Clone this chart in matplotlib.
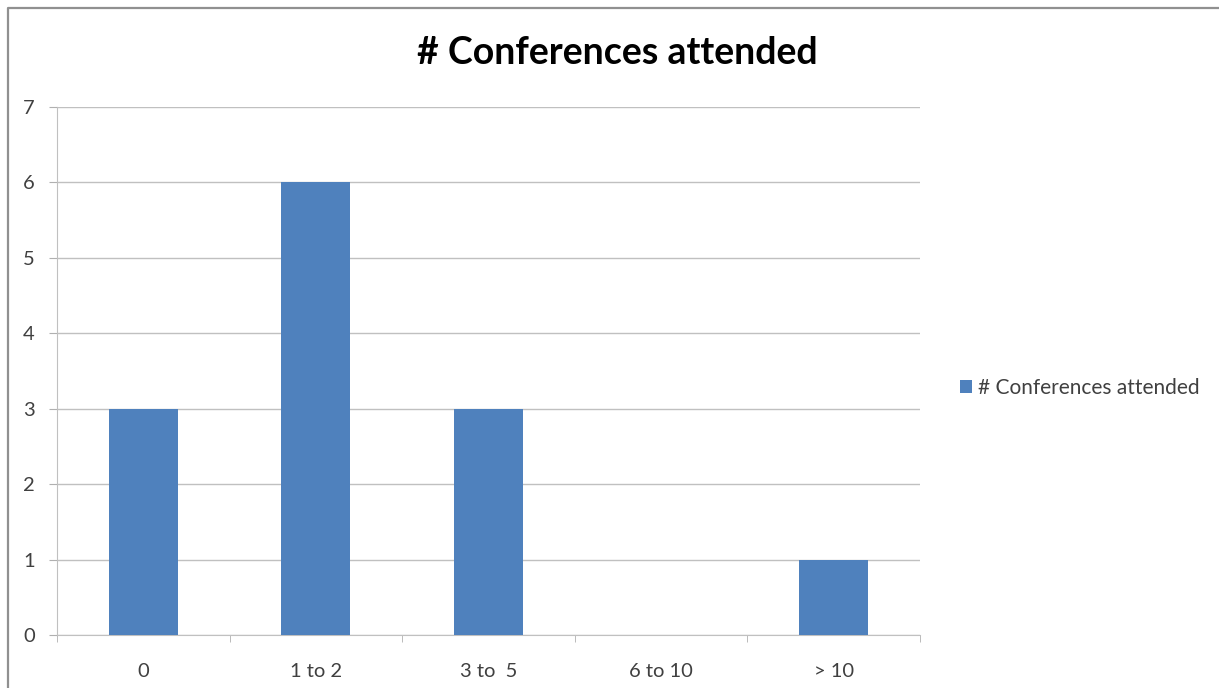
import matplotlib.pyplot as plt
from matplotlib.lines import Line2D

plt.rcParams['font.family'] = ['Lato', 'DejaVu Sans']

categories = ["0", "1 to 2", "3 to  5", "6 to 10", "> 10"]
counts = [3, 6, 3, 0, 1]
series_name = "# Conferences attended"

W, H = 1219, 688
fig = plt.figure(figsize=(W / 100, H / 100), dpi=100)
# frame only shows on top and left (chart was cropped)
fig.lines.append(Line2D([8 / W, 8 / W, 1], [0, 1 - 8 / H, 1 - 8 / H], transform=fig.transFigure,
                        color='#909090', linewidth=1.6))

ax = fig.add_axes([57 / W, 1 - 635 / H, (920 - 57) / W, (635 - 107) / H])
x = list(range(len(categories)))
ax.bar(x, counts, width=0.4, color='#4f81bd', label=series_name, zorder=3)

ax.set_xlim(-0.5, len(categories) - 0.5)
ax.set_ylim(0, 7)
ax.set_yticks(range(0, 8))
ax.set_xticks(x)
ax.set_xticklabels(categories)
ax.set_xticks([i + 0.5 for i in range(-1, len(categories))], minor=True)
ax.tick_params(axis='x', which='major', length=0, pad=20, labelsize=14.5, labelcolor='#404040')
ax.tick_params(axis='x', which='minor', length=5, color='#b0b0b0', direction='out')
ax.tick_params(axis='y', length=6, color='#b0b0b0', pad=10, labelsize=14.5, labelcolor='#404040')
ax.grid(axis='y', color='#c0c0c0', linewidth=1, zorder=0)
for s in ['top', 'right']:
    ax.spines[s].set_visible(False)
ax.spines['left'].set_color('#c0c0c0')
ax.spines['bottom'].set_color('#c0c0c0')

fig.text(617 / W, 1 - 53 / H, "# Conferences attended", ha='center', va='center',
         fontsize=27, fontweight='bold', color='black')

ax.legend(loc='center left', bbox_to_anchor=(941 / W, 1 - 388 / H), bbox_transform=fig.transFigure,
          frameon=False, fontsize=15, handlelength=0.6, handleheight=0.6, handletextpad=0.3,
          labelcolor='#404040')

fig.savefig('out.png', dpi=100)
